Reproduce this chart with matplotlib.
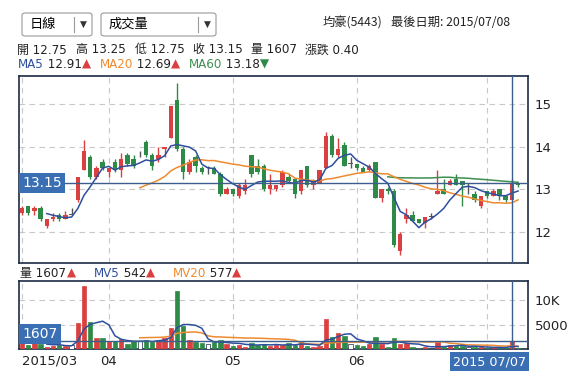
import matplotlib
matplotlib.use("Agg")
import matplotlib.pyplot as plt
import matplotlib.transforms as mtransforms
import numpy as np
from matplotlib.patches import FancyBboxPatch

plt.rcParams['font.family'] = ['DejaVu Sans', 'Noto Sans CJK TC']

# daily bars, 2015/03/12 .. 2015/07/08
opens = [12.45, 12.6, 12.5, 12.55, 12.15, 12.3, 12.4, 12.3, 12.4, 12.75,
         13.45, 13.75, 13.3, 13.65, 13.4, 13.65, 13.45, 13.8, 13.7, 13.8,
         14.1, 13.8, 13.7, 13.95, 14.2, 15.1, 13.95, 13.4, 13.75, 13.5,
         13.5, 13.5, 13.35, 12.9, 13.0, 12.85, 12.95, 13.8, 13.55, 13.55,
         13.0, 13.0, 13.1, 13.3, 13.25, 12.95, 13.55, 13.1, 13.15, 13.5,
         14.25, 13.8, 14.05, 13.6, 13.6, 13.5, 13.45, 13.65, 12.8, 13.0,
         12.95, 11.55, 12.3, 12.4, 12.3, 12.2, 12.35, 12.9, 13.0, 13.1,
         13.25, 13.2, 13.05, 12.9, 12.6, 12.95, 12.85, 13.0, 12.85, 12.75,
         13.15]
highs = [12.6, 12.6, 12.6, 12.6, 12.3, 12.45, 12.45, 12.5, 12.55, 13.3,
         14.15, 13.8, 13.55, 13.7, 13.5, 13.7, 13.85, 13.85, 13.8, 13.9,
         14.15, 13.85, 14.0, 14.0, 14.95, 15.5, 14.0, 13.7, 13.8, 13.55,
         13.55, 13.55, 13.4, 13.05, 13.0, 13.15, 13.25, 13.8, 13.7, 13.6,
         13.35, 13.1, 13.45, 13.35, 13.25, 13.45, 13.55, 13.25, 13.45, 14.35,
         14.3, 14.2, 14.1, 13.75, 13.6, 13.55, 13.6, 13.65, 13.0, 13.05,
         13.0, 12.0, 12.55, 12.5, 12.3, 12.35, 12.45, 13.45, 13.25, 13.25,
         13.35, 13.2, 13.15, 12.95, 12.85, 12.95, 13.0, 13.0, 12.85, 13.25,
         13.15]
lows = [12.4, 12.4, 12.4, 12.25, 12.1, 12.25, 12.25, 12.3, 12.4, 12.7,
        13.45, 13.25, 13.25, 13.45, 13.3, 13.4, 13.3, 13.55, 13.5, 13.75,
        13.75, 13.45, 13.65, 13.75, 14.2, 13.9, 13.25, 13.35, 13.4, 13.35,
        13.35, 13.35, 12.85, 12.9, 12.85, 12.8, 12.9, 13.3, 13.35, 12.95,
        12.9, 12.95, 13.05, 13.15, 12.8, 12.9, 13.05, 13.0, 13.15, 13.5,
        13.75, 13.75, 13.55, 13.5, 13.45, 13.4, 13.4, 12.8, 12.7, 12.9,
        11.65, 11.45, 12.2, 12.25, 12.2, 12.1, 12.3, 12.9, 12.9, 13.1,
        13.1, 12.6, 12.9, 12.7, 12.55, 12.8, 12.85, 12.75, 12.7, 12.75,
        13.05]
closes = [12.55, 12.45, 12.55, 12.3, 12.3, 12.35, 12.3, 12.4, 12.4, 13.3,
          13.9, 13.3, 13.5, 13.5, 13.5, 13.45, 13.7, 13.6, 13.55, 13.8,
          13.8, 13.55, 13.8, 14.0, 14.95, 13.95, 13.4, 13.65, 13.55, 13.4,
          13.5, 13.35, 12.9, 13.0, 12.9, 13.1, 13.1, 13.35, 13.4, 13.0,
          13.1, 13.1, 13.4, 13.2, 12.9, 13.45, 13.1, 13.2, 13.45, 14.25,
          13.8, 13.95, 13.55, 13.6, 13.5, 13.4, 13.55, 12.8, 13.0, 12.95,
          11.7, 11.95, 12.4, 12.25, 12.2, 12.35, 12.35, 12.95, 12.9, 13.2,
          13.1, 13.1, 13.05, 12.75, 12.85, 12.85, 12.95, 12.85, 12.75, 13.15,
          13.1]
volumes = [1290, 816, 1500, 1020, 340, 680, 816, 612, 816, 5374,
           12860, 5510, 2313, 2313, 1633, 1633, 2041, 1020, 1633, 1633,
           1837, 1500, 1837, 2313, 4286, 11837, 4694, 1837, 1500, 1293,
           1020, 1500, 1837, 952, 680, 816, 476, 1293, 816, 1020,
           612, 816, 816, 1156, 816, 1500, 612, 340, 612, 6123,
           2381, 3333, 2653, 1020, 816, 612, 952, 2381, 1020, 476,
           2177, 1020, 1293, 340, 136, 340, 136, 1429, 340, 816,
           612, 612, 340, 476, 340, 280, 250, 280, 290, 1607,
           136]
month_idx = [0, 14, 34, 54, 75]
month_labels = ["2015/03", "04", "05", "06", ""]
cursor = 79

RED = "#d9403f"
GREEN = "#2e8b47"
NAVY = "#1c2b45"
CROSS = "#3b5e8c"
TAG = "#3a6fb3"
C_MA5 = "#2e4f9e"
C_MA20 = "#ef8a2f"
C_MA60 = "#3d8f50"
DARK = "#222222"

o = np.array(opens); h = np.array(highs); l = np.array(lows); c = np.array(closes)
v = np.array(volumes, dtype=float)
x = np.arange(len(c))


def sma(a, n):
    out = np.full(len(a), np.nan)
    for i in range(n - 1, len(a)):
        out[i] = a[i - n + 1:i + 1].mean()
    return out


ma5, ma20, ma60 = sma(c, 5), sma(c, 20), sma(c, 60)
mv5, mv20 = sma(v, 5), sma(v, 20)

W, H = 584, 376
fig = plt.figure(figsize=(W / 100, H / 100), dpi=100)


def fx(px):
    return px / W


def fy(py):
    return 1 - py / H


ax = fig.add_axes([fx(19.3), fy(263), fx(528 - 19.3), (263 - 76) / H])
axv = fig.add_axes([fx(19.3), fy(349), fx(528 - 19.3), (349 - 280.7) / H])

cols = [RED if cc > oo else (GREEN if cc < oo else "#555555") for oo, cc in zip(o, c)]

# candles
ax.vlines(x, l, h, colors=cols, linewidth=1, zorder=3)
body_lo = np.minimum(o, c)
body_h = np.maximum(np.abs(c - o), 0.012)
ax.bar(x, body_h, bottom=body_lo, width=0.72, color=cols, linewidth=0, zorder=4)

ax.plot(x, ma60, color=C_MA60, lw=1.1, zorder=5)
ax.plot(x, ma20, color=C_MA20, lw=1.1, zorder=5)
ax.plot(x, ma5, color=C_MA5, lw=1.1, zorder=5)

ax.axhline(c[cursor], color=CROSS, lw=1, zorder=6)
ax.axvline(cursor, color=CROSS, lw=1, zorder=6)

ax.set_xlim(-0.44, 81.6)
ax.set_ylim(11.27, 15.66)
ax.set_yticks([12, 13, 14, 15])
ax.yaxis.tick_right()
ax.set_xticks(month_idx)
ax.set_xticklabels([])
ax.tick_params(length=0, labelsize=9.5, colors=DARK, pad=5)
ax.grid(True, color="#c8c8c8", linestyle=(0, (5, 4)), lw=0.8)

# volume
vcols = [RED if cc > oo else (GREEN if cc < oo else "white") for oo, cc in zip(o, c)]
axv.bar(x, v, width=0.72, color=vcols, edgecolor=[cc if cc != "white" else NAVY for cc in vcols],
        linewidth=0.5, zorder=3)
axv.plot(x, mv20, color=C_MA20, lw=1.1, zorder=4)
axv.plot(x, mv5, color=C_MA5, lw=1.1, zorder=4)
axv.axhline(v[cursor], color=CROSS, lw=1, zorder=6)
axv.axvline(cursor, color=CROSS, lw=1, zorder=6)
axv.set_xlim(-0.44, 81.6)
axv.set_ylim(0, 13940)
axv.set_yticks([5000, 10000])
axv.set_yticklabels(["5000", "10K"])
axv.yaxis.tick_right()
axv.set_xticks(month_idx)
axv.set_xticklabels(month_labels)
axv.get_xticklabels()[0].set_horizontalalignment("left")
axv.tick_params(length=0, labelsize=9.5, colors=DARK, pad=5)
axv.tick_params(axis="x", pad=4)
axv.grid(True, color="#c8c8c8", linestyle=(0, (5, 4)), lw=0.8)

for a in (ax, axv):
    for s in a.spines.values():
        s.set_color(NAVY)
        s.set_linewidth(1.2)

# value tags on the left edge and under the cursor
box = dict(boxstyle="square,pad=0.22", fc=TAG, ec="none")
tr_p = mtransforms.blended_transform_factory(fig.transFigure, ax.transData)
tr_v = mtransforms.blended_transform_factory(fig.transFigure, axv.transData)
fig.text(fx(22.5), c[cursor], f"{c[cursor]:.2f}", transform=tr_p,
         color="white", fontsize=10, va="center", ha="left", bbox=box, zorder=8)
fig.text(fx(22.5), v[cursor], f"{int(v[cursor])}", transform=tr_v,
         color="white", fontsize=10, va="bottom", ha="left", bbox=box, zorder=8)
axv.text(cursor + 2.25, -0.09, "2015 07/07", transform=axv.get_xaxis_transform(),
         color="white", fontsize=9.2, va="top", ha="right", bbox=box, zorder=8)

# header controls
for x0, x1, div, lab in [(22, 92, 74, "日線"), (101, 216, 198, "成交量")]:
    fig.patches.append(FancyBboxPatch((fx(x0), fy(36)), fx(x1 - x0), (36 - 13) / H,
                                      boxstyle="round,pad=0,rounding_size=0.006",
                                      transform=fig.transFigure, fc="white", ec="#9a9a9a", lw=0.8))
    fig.lines.append(plt.Line2D([fx(div), fx(div)], [fy(17), fy(32)], transform=fig.transFigure,
                                color="#9a9a9a", lw=0.8))
    fig.text(fx(x0 + 8), fy(24.5), lab, family=["Noto Sans CJK TC"], fontsize=9.5, va="center")
    fig.text(fx((div + x1) / 2), fy(24.5), "▼", fontsize=6.5, va="center", ha="center", color="#333333")

fig.text(fx(323), fy(22.5), "均豪(5443)", family=["Noto Sans CJK TC"], fontsize=8.8,
         ha="left", va="center", color=DARK)
fig.text(fx(510), fy(22.5), "最後日期: 2015/07/08", family=["Noto Sans CJK TC"], fontsize=8.8,
         ha="right", va="center", color=DARK)

FS = 8.6


def row(py, groups):
    # groups: list of (start x in px, [(text, color), ...])
    r = fig.canvas.get_renderer()
    for px, parts in groups:
        xx = px
        for s, col in parts:
            t = fig.text(fx(xx), fy(py), s, color=col, fontsize=FS, va="center", ha="left",
                         family=["DejaVu Sans", "Noto Sans CJK TC"])
            xx += t.get_window_extent(renderer=r).width


row(50, [(17, [("開 12.75", DARK)]), (76, [("高 13.25", DARK)]), (135, [("低 12.75", DARK)]),
         (193, [("收 13.15", DARK)]), (251, [("量 1607", DARK)]), (305, [("漲跌 0.40", DARK)])])
row(64.5, [(18, [("MA5", C_MA5), (" 12.91", DARK), ("▲", RED)]),
           (100, [("MA20", C_MA20), (" 12.69", DARK), ("▲", RED)]),
           (189, [("MA60", C_MA60), (" 13.18", DARK), ("▼", GREEN)])])
row(273.5, [(20.5, [("量 1607", DARK), ("▲", RED)]),
            (94, [("MV5", C_MA5), (" 542", DARK), ("▲", RED)]),
            (172.5, [("MV20", C_MA20), (" 577", DARK), ("▲", RED)])])

fig.savefig("out.png", dpi=100)
